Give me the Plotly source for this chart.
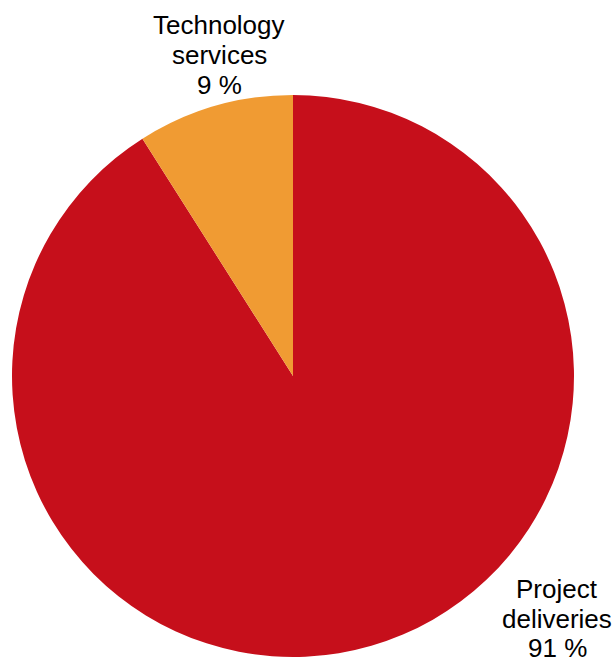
import plotly.graph_objects as go

W, H = 615, 662

segments = ["Project deliveries", "Technology services"]
shares = [91, 9]
colors = ["#C60F1B", "#F09B33"]

# label lines and their anchor points (pixels from top-left)
label_lines = {
    "Technology services": (["Technology", "services", "9 %"], 219, [25, 55, 85]),
    "Project deliveries": (["Project", "deliveries", "91 %"], 557, [589, 619, 648]),
}

fig = go.Figure(
    go.Pie(
        labels=segments,
        values=shares,
        sort=False,
        direction="clockwise",
        rotation=0,
        textinfo="none",
        hoverinfo="label+percent",
        marker=dict(colors=colors, line=dict(width=0)),
        domain=dict(x=[12 / W, 574 / W], y=[(H - 657) / H, (H - 95) / H]),
    )
)

annotations = []
for seg in segments:
    lines, cx, ys = label_lines[seg]
    for text, cy in zip(lines, ys):
        annotations.append(
            dict(
                text=text,
                x=cx / W,
                y=1 - cy / H,
                xref="paper",
                yref="paper",
                xanchor="center",
                yanchor="middle",
                showarrow=False,
                font=dict(family="Liberation Sans, Arial, sans-serif", size=26, color="#000000"),
            )
        )

fig.update_layout(
    width=W,
    height=H,
    margin=dict(l=0, r=0, t=0, b=0),
    paper_bgcolor="white",
    plot_bgcolor="white",
    showlegend=False,
    annotations=annotations,
)

fig.write_html("out.html")
